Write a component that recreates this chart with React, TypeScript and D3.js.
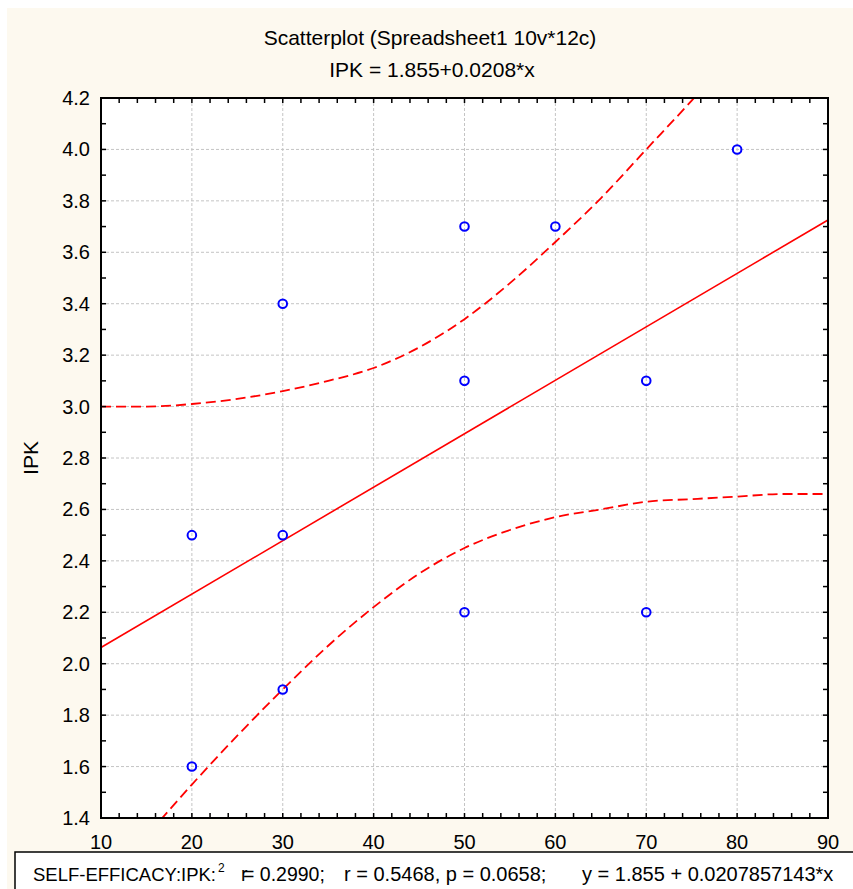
import React from "react";
import * as d3 from "d3";

// ---- data ----
const selfEfficacy = [20, 20, 30, 30, 30, 50, 50, 50, 60, 70, 70, 80];
const ipk = [2.5, 1.6, 3.4, 2.5, 1.9, 3.7, 3.1, 2.2, 3.7, 3.1, 2.2, 4.0];

const fitIntercept = 1.855;
const fitSlope = 0.0207857143;

// 95% confidence band
const bandX = [10, 15, 20, 25, 30, 35, 40, 45, 50, 55, 60, 65, 70, 75, 80, 85, 90];
const bandUpper = [3.0, 3.0, 3.01, 3.03, 3.06, 3.1, 3.15, 3.23, 3.34, 3.48, 3.64, 3.81, 4.0, 4.19, 4.39, 4.59, 4.79];
const bandLower = [1.13, 1.33, 1.53, 1.72, 1.9, 2.07, 2.22, 2.35, 2.45, 2.52, 2.57, 2.6, 2.63, 2.64, 2.65, 2.66, 2.66];

const xTicks = [10, 20, 30, 40, 50, 60, 70, 80, 90];
const yTicks = [1.4, 1.6, 1.8, 2.0, 2.2, 2.4, 2.6, 2.8, 3.0, 3.2, 3.4, 3.6, 3.8, 4.0, 4.2];

const titleLine1 = "Scatterplot (Spreadsheet1 10v*12c)";
const titleLine2 = "IPK = 1.855+0.0208*x";
const yLabel = "IPK";
const legendParts = [
  "SELF-EFFICACY:IPK:",
  "2",
  "r",
  "= 0.2990;",
  "r = 0.5468, p = 0.0658;",
  "y = 1.855 + 0.0207857143*x",
];

const W = 853;
const H = 889;
const left = 101, right = 828, top = 98, bottom = 818;
const FONT = "'Liberation Sans', Arial, sans-serif";

export default function App() {
  const x = d3.scaleLinear().domain([10, 90]).range([left, right]);
  const y = d3.scaleLinear().domain([1.4, 4.2]).range([bottom, top]);

  const minorX = d3.range(10, 90.001, 2);
  const minorY = d3.range(14, 42.001, 1).map((v) => v / 10);

  const band = d3
    .line<number>()
    .x((_, i) => x(bandX[i]))
    .curve(d3.curveMonotoneX);
  const upperPath = band.y((v) => y(v))(bandUpper) || "";
  const lowerPath = band.y((v) => y(v))(bandLower) || "";

  const fitPath =
    d3.line<number>().x((v) => x(v)).y((v) => y(fitIntercept + fitSlope * v))([10, 90]) || "";

  const tickLen = 5;
  const legendY = 881;

  return (
    <svg
      width={W}
      height={H}
      style={{ position: "absolute", left: 0, top: 0, display: "block" }}
      fontFamily={FONT}
    >
      <rect x={0} y={0} width={W} height={H} fill="#ffffff" />
      <rect x={7} y={8} width={W - 7} height={H - 8} fill="#FDF9EF" />

      <text x={430} y={45} textAnchor="middle" fontSize={21} fill="#000">
        {titleLine1}
      </text>
      <text x={432} y={77} textAnchor="middle" fontSize={21} fill="#000">
        {titleLine2}
      </text>

      <defs>
        <clipPath id="plotClip">
          <rect x={left} y={top} width={right - left} height={bottom - top} />
        </clipPath>
      </defs>

      <rect x={left} y={top} width={right - left} height={bottom - top} fill="#ffffff" />

      {/* grid */}
      <g stroke="#c4c4c4" strokeWidth={1} strokeDasharray="3,2">
        {xTicks.slice(1, -1).map((t) => (
          <line key={"gx" + t} x1={x(t)} x2={x(t)} y1={top} y2={bottom} />
        ))}
        {yTicks.slice(1, -1).map((t) => (
          <line key={"gy" + t} x1={left} x2={right} y1={y(t)} y2={y(t)} />
        ))}
      </g>

      {/* fit and band */}
      <g clipPath="url(#plotClip)" fill="none" stroke="#FF0000">
        <path d={fitPath} strokeWidth={1.6} />
        <path d={upperPath} strokeWidth={1.8} strokeDasharray="10,5" />
        <path d={lowerPath} strokeWidth={1.8} strokeDasharray="10,5" />
      </g>

      {/* points */}
      <g fill="none" stroke="#0000FF" strokeWidth={2}>
        {selfEfficacy.map((v, i) => (
          <circle key={"p" + i} cx={x(v)} cy={y(ipk[i])} r={4.3} />
        ))}
      </g>

      {/* ticks */}
      <g stroke="#000" strokeWidth={1.5}>
        {minorX.map((t) => (
          <g key={"tx" + t}>
            <line x1={x(t)} x2={x(t)} y1={bottom} y2={bottom - tickLen} />
            <line x1={x(t)} x2={x(t)} y1={top} y2={top + tickLen} />
          </g>
        ))}
        {minorY.map((t) => (
          <g key={"ty" + t}>
            <line x1={left} x2={left + tickLen} y1={y(t)} y2={y(t)} />
            <line x1={right} x2={right - tickLen} y1={y(t)} y2={y(t)} />
          </g>
        ))}
      </g>

      <rect
        x={left}
        y={top}
        width={right - left}
        height={bottom - top}
        fill="none"
        stroke="#000"
        strokeWidth={2}
      />

      {/* tick labels */}
      <g fontSize={20} fill="#000">
        {yTicks.map((t) => (
          <text key={"ly" + t} x={90} y={y(t) + 7} textAnchor="end">
            {d3.format(".1f")(t)}
          </text>
        ))}
        {xTicks.map((t) => (
          <text key={"lx" + t} x={x(t)} y={849} textAnchor="middle">
            {t}
          </text>
        ))}
      </g>

      <text
        transform={`translate(38,458) rotate(-90)`}
        textAnchor="middle"
        fontSize={21}
        fill="#000"
      >
        {yLabel}
      </text>

      {/* legend box */}
      <rect x={15} y={852} width={W} height={60} fill="#ffffff" stroke="#000" strokeWidth={1.5} />
      <g fill="#000">
        <text x={33} y={legendY} fontSize={18.5}>{legendParts[0]}</text>
        <text x={218} y={legendY - 9} fontSize={12}>{legendParts[1]}</text>
        <text x={241} y={legendY} fontSize={19.5}>{legendParts[2]}</text>
        <text x={243} y={legendY} fontSize={19.5}>{legendParts[3]}</text>
        <text x={344} y={legendY} fontSize={20}>{legendParts[4]}</text>
        <text x={582} y={legendY} fontSize={20}>{legendParts[5]}</text>
      </g>
    </svg>
  );
}
